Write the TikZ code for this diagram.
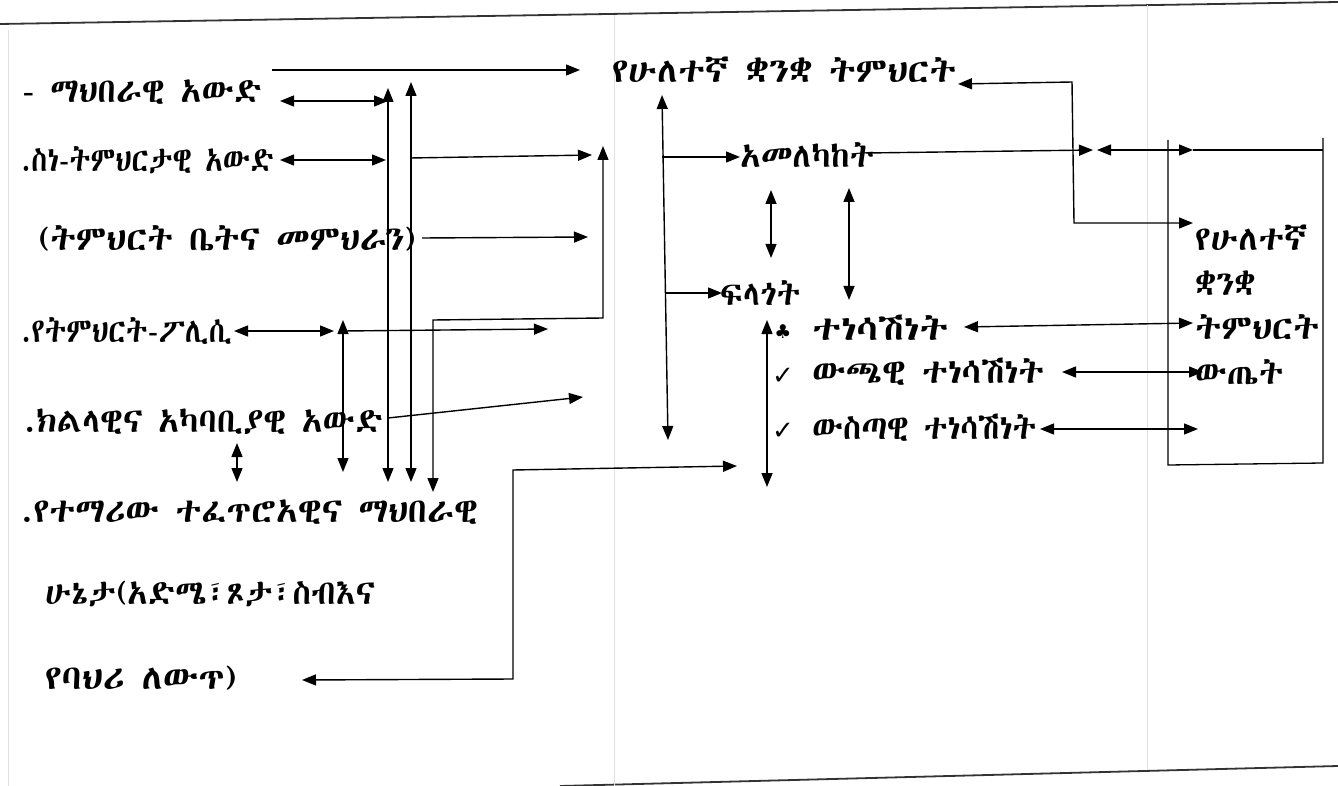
\documentclass[tikz,border=0pt]{standalone}
\usepackage{fontspec}
\setmainfont{DejaVu Sans}
\IfFontExistsTF{FreeSerif.otf}{\newfontfamily\eth{FreeSerif.otf}}{%
  \IfFontExistsTF{Abyssinica SIL}{\newfontfamily\eth{Abyssinica SIL}}{%
    \newfontfamily\eth{DejaVu Sans}}}
\newfontfamily\symf{DejaVu Sans}
\usetikzlibrary{arrows.meta}
\newcommand{\fitw}[2]{\resizebox{#1pt}{\height}{#2}}
\tikzset{
  lbl/.style={anchor=west, inner sep=0pt, font=\eth\fontsize{34}{40}\selectfont},
  sym/.style={anchor=center, inner sep=0pt, font=\symf\fontsize{26}{30}\selectfont},
  club/.style={anchor=center, inner sep=0pt, font=\symf\fontsize{19}{22}\selectfont},
  con/.style={line width=1.4pt, -{Triangle[length=14pt,width=11pt]}},
  dcon/.style={line width=1.4pt, {Triangle[length=14pt,width=11pt]}-{Triangle[length=14pt,width=11pt]}},
  ln/.style={line width=1.3pt},
  pageedge/.style={line width=1.8pt, black!80},
  fold/.style={line width=0.8pt, black!12},
}
\begin{document}
\begin{tikzpicture}[x=1pt,y=-1pt]
\useasboundingbox (0,0) rectangle (1338,786);
\fill[white] (0,0) rectangle (1338,786);
% page edges and folds
\draw[pageedge] (0,24) -- (1338,2);
\draw[pageedge] (560,786) -- (1338,766);
\draw[fold] (8,30) -- (8,786);
\draw[fold] (614,15) -- (614,786);
\draw[fold] (1147,5) -- (1147,770);

% left column texts
\node[lbl] (t1) at (22,92) {\fitw{240}{- ማህበራዊ አውድ}};
\node[lbl] (t2) at (22,160) {\fitw{252}{.ስነ-ትምህርታዊ አውድ}};
\node[lbl] (t3) at (38,238) {\fitw{378}{(ትምህርት ቤትና መምህራን)}};
\node[lbl] (t4) at (22,331) {\fitw{210}{.የትምህርት-ፖሊሲ}};
\node[lbl] (t5) at (25,422) {\fitw{358}{.ክልላዊና አካባቢያዊ አውድ}};
\node[lbl] (t6) at (22,512) {\fitw{456}{.የተማሪው ተፈጥሮአዊና ማህበራዊ}};
\node[lbl] (t7) at (45,594) {\fitw{330}{ሁኔታ(አድሜ፣ጾታ፣ስብእና}};
\node[lbl] (t8) at (45,678) {\fitw{192}{የባህሪ ለውጥ)}};

% middle texts
\node[lbl] (m1) at (612,70) {\fitw{344}{የሁለተኛ ቋንቋ ትምህርት}};
\node[lbl] (m2) at (740,155) {\fitw{134}{አመለካከት}};
\node[lbl] (m3) at (720,293) {\fitw{80}{ፍላጎት}};
\node[club] (s4) at (783,332) {♣};
\node[lbl] (m4) at (812,328) {\fitw{136}{ተነሳሽነት}};
\node[sym] (s5) at (783,376) {✓};
\node[lbl] (m5) at (812,372) {\fitw{232}{ውጫዊ ተነሳሽነት}};
\node[sym] (s6) at (783,431) {✓};
\node[lbl] (m6) at (812,428) {\fitw{224}{ውስጣዊ ተነሳሽነት}};

% right box texts
\node[lbl] (b1) at (1195,238) {\fitw{112}{የሁለተኛ}};
\node[lbl] (b2) at (1195,283) {\fitw{60}{ቋንቋ}};
\node[lbl] (b3) at (1195,327) {\fitw{124}{ትምህርት}};
\node[lbl] (b4) at (1195,372) {\fitw{88}{ውጤት}};

% coordinates
\coordinate (a1s) at (272,70);   \coordinate (a1e) at (580,70);
\coordinate (a2s) at (280,101);  \coordinate (a2e) at (388,101);
\coordinate (vAt) at (388,88);   \coordinate (vAb) at (388,482);
\coordinate (vBt) at (411,82);   \coordinate (vBb) at (411,482);
\coordinate (a5s) at (280,160);  \coordinate (a5e) at (386,160);
\coordinate (a6s) at (410,158);  \coordinate (a6e) at (592,155);
\coordinate (cT) at (603,146);   \coordinate (cM) at (603,318);
\coordinate (cN) at (433,320);   \coordinate (cB) at (433,492);
\coordinate (a8s) at (422,238);  \coordinate (a8e) at (588,237);
\coordinate (a9s) at (234,331);  \coordinate (a9e) at (334,331);
\coordinate (vDt) at (343,320);  \coordinate (vDb) at (343,472);
\coordinate (a11s) at (343,331); \coordinate (a11e) at (548,329);
\coordinate (a12s) at (388,418); \coordinate (a12e) at (583,397);
\coordinate (a13t) at (237,443); \coordinate (a13b) at (237,482);
\coordinate (eL) at (302,680);   \coordinate (eC1) at (513,679);
\coordinate (eC2) at (513,470);  \coordinate (eR) at (737,466);
\coordinate (vFt) at (662,95);   \coordinate (vFb) at (668,440);
\coordinate (a16s) at (662,157); \coordinate (a16e) at (740,157);
\coordinate (a17s) at (666,293); \coordinate (a17e) at (722,293);
\coordinate (vGt) at (771,190);  \coordinate (vGb) at (771,258);
\coordinate (vHt) at (849,188);  \coordinate (vHb) at (849,300);
\coordinate (a20s) at (866,153); \coordinate (a20e) at (1093,150);
\coordinate (a21s) at (1097,150);\coordinate (a21e) at (1193,150);
\coordinate (a21x) at (1323,150);
\coordinate (iL) at (958,84);    \coordinate (iC1) at (1072,82);
\coordinate (iC2) at (1074,223); \coordinate (iR) at (1193,223);
\coordinate (a23s) at (964,327); \coordinate (a23e) at (1193,323);
\coordinate (a24s) at (1062,372);\coordinate (a24e) at (1203,372);
\coordinate (a25s) at (1040,429);\coordinate (a25e) at (1198,429);
\coordinate (vJt) at (767,320);  \coordinate (vJb) at (767,487);
\coordinate (bx1) at (1168,140); \coordinate (bx2) at (1168,465);
\coordinate (bx3) at (1323,463); \coordinate (bx4) at (1323,138);

% connectors
\draw[con] (a1s) -- (a1e);
\draw[dcon] (a2s) -- (a2e);
\draw[dcon] (vAt) -- (vAb);
\draw[dcon] (vBt) -- (vBb);
\draw[dcon] (a5s) -- (a5e);
\draw[con] (a6s) -- (a6e);
\draw[dcon] (cT) -- (cM) -- (cN) -- (cB);
\draw[con] (a8s) -- (a8e);
\draw[dcon] (a9s) -- (a9e);
\draw[dcon] (vDt) -- (vDb);
\draw[con] (a11s) -- (a11e);
\draw[con] (a12s) -- (a12e);
\draw[dcon] (a13t) -- (a13b);
\draw[dcon] (eL) -- (eC1) -- (eC2) -- (eR);
\draw[dcon] (vFt) -- (vFb);
\draw[con] (a16s) -- (a16e);
\draw[con] (a17s) -- (a17e);
\draw[dcon] (vGt) -- (vGb);
\draw[dcon] (vHt) -- (vHb);
\draw[con] (a20s) -- (a20e);
\draw[dcon] (a21s) -- (a21e);
\draw[ln] (a21e) -- (a21x);
\draw[dcon] (iL) -- (iC1) -- (iC2) -- (iR);
\draw[dcon] (a23s) -- (a23e);
\draw[dcon] (a24s) -- (a24e);
\draw[dcon] (a25s) -- (a25e);
\draw[dcon] (vJt) -- (vJb);
\draw[ln] (bx1) -- (bx2) -- (bx3) -- (bx4);
\end{tikzpicture}
\end{document}
